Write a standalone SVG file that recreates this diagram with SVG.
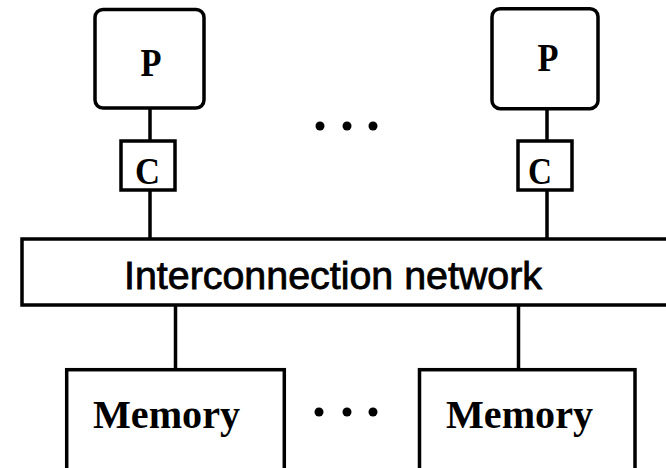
<svg xmlns="http://www.w3.org/2000/svg" width="666" height="468" viewBox="0 0 666 468">
  <style>
    .box { fill: #ffffff; stroke: #000000; stroke-width: 3.5; }
    .wire { fill: none; stroke: #000000; stroke-width: 3.5; }
    .dot { fill: #000000; }
    .serif { font-family: "Liberation Serif", "Times New Roman", serif; fill: #000000; }
    .proc { font-size: 40px; font-weight: bold; }
    .cache { font-size: 37px; font-weight: bold; }
    .mem { font-size: 40px; font-weight: bold; }
    .net { font-family: "Liberation Sans", Arial, sans-serif; font-size: 38px; fill: #000000; stroke: #000000; stroke-width: 0.8; }
  </style>

  <rect width="666" height="468" fill="#ffffff"/>

  <!-- connectors -->
  <g id="connectors">
    <line class="wire" x1="150" y1="108" x2="150" y2="141"/>
    <line class="wire" x1="150" y1="190" x2="150" y2="239"/>
    <line class="wire" x1="547" y1="108.5" x2="547" y2="141"/>
    <line class="wire" x1="547" y1="190" x2="547" y2="239"/>
    <line class="wire" x1="175.5" y1="305" x2="175.5" y2="370"/>
    <line class="wire" x1="518.5" y1="305" x2="518.5" y2="370"/>
  </g>

  <!-- processors -->
  <g id="proc1">
    <rect class="box" x="95" y="9.5" width="109" height="98.5" rx="8"/>
    <text class="serif proc" x="151" y="76" text-anchor="middle" textLength="21" lengthAdjust="spacingAndGlyphs">P</text>
  </g>
  <g id="proc2">
    <rect class="box" x="492" y="8.7" width="106" height="100" rx="8"/>
    <text class="serif proc" x="548" y="71" text-anchor="middle" textLength="21" lengthAdjust="spacingAndGlyphs">P</text>
  </g>

  <!-- caches -->
  <g id="cache1">
    <rect class="box" x="121" y="141" width="54" height="49"/>
    <text class="serif cache" x="135" y="183.5" textLength="25" lengthAdjust="spacingAndGlyphs">C</text>
  </g>
  <g id="cache2">
    <rect class="box" x="518" y="141" width="54" height="49"/>
    <text class="serif cache" x="528" y="183.5" textLength="24" lengthAdjust="spacingAndGlyphs">C</text>
  </g>

  <!-- ellipsis between processors -->
  <g id="dots-top">
    <circle class="dot" cx="320" cy="126" r="4.5"/>
    <circle class="dot" cx="347" cy="126" r="4.5"/>
    <circle class="dot" cx="373" cy="126" r="4.5"/>
  </g>

  <!-- interconnection network, running off the right edge -->
  <g id="network">
    <rect class="box" x="22" y="239" width="680" height="66"/>
    <text class="net" x="124" y="289" textLength="418" lengthAdjust="spacingAndGlyphs">Interconnection network</text>
  </g>

  <!-- memories, running off the bottom edge -->
  <g id="mem1">
    <rect class="box" x="66.7" y="369.7" width="217.6" height="120"/>
    <text class="serif mem" x="93" y="428" textLength="147" lengthAdjust="spacingAndGlyphs">Memory</text>
  </g>
  <g id="mem2">
    <rect class="box" x="419.5" y="369.7" width="215.5" height="120"/>
    <text class="serif mem" x="446" y="428" textLength="147" lengthAdjust="spacingAndGlyphs">Memory</text>
  </g>

  <!-- ellipsis between memories -->
  <g id="dots-bottom">
    <circle class="dot" cx="319" cy="412" r="4.5"/>
    <circle class="dot" cx="347" cy="412" r="4.5"/>
    <circle class="dot" cx="373" cy="412" r="4.5"/>
  </g>
</svg>
